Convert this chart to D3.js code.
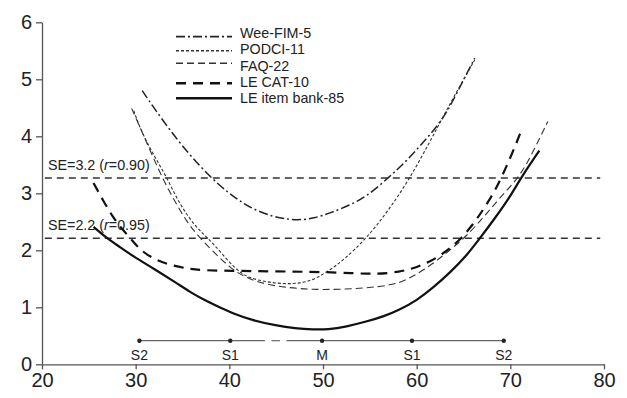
<!DOCTYPE html>
<html>
<head>
<meta charset="utf-8">
<script src="https://cdn.jsdelivr.net/npm/d3@7"></script>
<style>
  body { margin: 0; background: #fff; }
  text { font-family: "Liberation Sans", Arial, sans-serif; fill: #222; }
</style>
</head>
<body>
<script>
// x ticks / y ticks
var xTicks = [20, 30, 40, 50, 60, 70, 80];
var yTicks = [0, 1, 2, 3, 4, 5, 6];

// standard error curves, [score, SE]
var weeFim5 = [[30.7,4.80],[32.95,4.26],[35.5,3.72],[37.93,3.29],[39.8,3.02],[41.48,2.82],[43,2.69],[44.7,2.59],[46,2.55],[47.5,2.53],[49,2.56],[50.7,2.65],[52.7,2.78],[54.65,2.94],[57.1,3.29],[58.8,3.55],[60.3,3.82],[61.8,4.1],[63.2,4.40],[65.0,4.99],[66.2,5.37]];
var podci11 = [[29.8,4.45],[30.46,4.14],[31.8,3.7],[33.31,3.29],[34.73,2.79],[36.51,2.39],[37.75,2.21],[39.0,1.98],[40.78,1.65],[42,1.52],[44,1.44],[46,1.41],[47.5,1.42],[49,1.48],[50.7,1.65],[52.2,1.83],[54.65,2.21],[57,2.7],[59.3,3.27],[61.4,3.9],[63,4.4],[64.5,4.85],[66.2,5.34]];
var faq22 = [[29.57,4.49],[30.99,3.96],[32.77,3.29],[34.01,2.91],[35.44,2.50],[36.86,2.21],[39.0,1.86],[40.42,1.65],[42,1.5],[44,1.4],[46,1.35],[48,1.32],[50,1.31],[53,1.32],[56,1.36],[58.2,1.42],[60,1.58],[61.8,1.77],[63.5,2.0],[65.3,2.24],[67.5,2.65],[69.3,3.0],[71.0,3.29],[72.5,3.75],[74.0,4.26]];
var leCat10 = [[25.5,3.18],[26.5,2.88],[27.5,2.6],[28.5,2.38],[29.5,2.2],[30.5,2.0],[32,1.84],[33.7,1.74],[35.5,1.68],[37,1.65],[40,1.64],[45,1.63],[50,1.62],[53,1.6],[55.7,1.58],[58.2,1.62],[60,1.7],[61.8,1.83],[63.3,2.0],[64.6,2.18],[66,2.45],[67.1,2.71],[68.2,3.0],[69.1,3.29],[70.2,3.7],[71.2,4.11]];
var leBank85 = [[25.5,2.41],[27,2.2],[28.3,2.06],[29.7,1.9],[31.9,1.68],[34.5,1.41],[35.8,1.27],[37.2,1.14],[38.7,1.02],[40.4,0.89],[42.5,0.77],[45,0.68],[47,0.63],[49,0.61],[50.5,0.61],[52.5,0.66],[54.65,0.75],[56.5,0.84],[58.2,0.96],[60,1.12],[61.8,1.35],[63.5,1.6],[65.3,1.9],[66.7,2.2],[68.3,2.55],[69.9,2.92],[71.2,3.29],[73.1,3.75]];

// SE reference lines
var seLevels = [3.27, 2.21];
var seLabels = [["SE=3.2 (", "r", "=0.90)"], ["SE=2.2 (", "r", "=0.95)"]];

// mean / SD markers
var markerNames = ["S2", "S1", "M", "S1", "S2"];
var markerValues = [30.4, 40.1, 49.9, 59.5, 69.3];
var markerGap = [[30.4, 43.8], [44.5, 45.4], [46.1, 69.3]];

var seriesNames = ["Wee-FIM-5", "PODCI-11", "FAQ-22", "LE CAT-10", "LE item bank-85"];

var width = 627, height = 398;

var x = d3.scaleLinear().domain([20, 80]).range([42, 604]);
var y = d3.scaleLinear().domain([0, 6]).range([364.3, 22.3]);

var svg = d3.select("body").append("svg")
    .attr("width", width)
    .attr("height", height);

// line styles per series
var styles = [
  { width: 1.5, dash: "9,3,2,3", color: "#222" },
  { width: 1.1, dash: "3,2",     color: "#333" },
  { width: 1.1, dash: "7,4",     color: "#333" },
  { width: 2.2, dash: "10,7",    color: "#111" },
  { width: 2.2, dash: null,      color: "#111" }
];
var allSeries = [weeFim5, podci11, faq22, leCat10, leBank85];

var line = d3.line()
    .x(d => x(d[0]))
    .y(d => y(d[1]))
    .curve(d3.curveBasis);

// SE reference lines
svg.selectAll("line.se").data(seLevels).enter()
  .append("line")
    .attr("class", "se")
    .attr("x1", x(20.3)).attr("x2", x(79.6))
    .attr("y1", d => y(d)).attr("y2", d => y(d))
    .attr("stroke", "#333")
    .attr("stroke-width", 1.5)
    .attr("stroke-dasharray", "7,5");

seLabels.forEach(function(parts, i) {
  var t = svg.append("text")
    .attr("x", 48)
    .attr("y", y(seLevels[i]) - 8)
    .attr("font-size", 14.3);
  t.append("tspan").text(parts[0]);
  t.append("tspan").attr("font-style", "italic").text(parts[1]);
  t.append("tspan").text(parts[2]);
});

// curves
svg.selectAll("path.curve").data(allSeries).enter()
  .append("path")
    .attr("class", "curve")
    .attr("d", line)
    .attr("fill", "none")
    .attr("stroke", (d, i) => styles[i].color)
    .attr("stroke-width", (d, i) => styles[i].width)
    .attr("stroke-dasharray", (d, i) => styles[i].dash);

// mean / SD scale
var markY = 340.7;
svg.selectAll("line.mk").data(markerGap).enter()
  .append("line")
    .attr("x1", d => x(d[0])).attr("x2", d => x(d[1]))
    .attr("y1", markY).attr("y2", markY)
    .attr("stroke", "#666")
    .attr("stroke-width", 1.2);
svg.selectAll("circle.mk").data(markerValues).enter()
  .append("circle")
    .attr("cx", d => x(d)).attr("cy", markY)
    .attr("r", 2.2)
    .attr("fill", "#222");
svg.selectAll("text.mk").data(markerValues).enter()
  .append("text")
    .attr("x", d => x(d)).attr("y", 360)
    .attr("text-anchor", "middle")
    .attr("font-size", 14)
    .text((d, i) => markerNames[i]);

// axes
var xAxis = svg.append("g")
    .attr("transform", "translate(0," + y(0) + ")")
    .call(d3.axisBottom(x).tickValues(xTicks).tickFormat(d3.format("d"))
      .tickSize(5).tickSizeOuter(0).tickPadding(4));
var yAxis = svg.append("g")
    .attr("transform", "translate(" + x(20) + ",0)")
    .call(d3.axisLeft(y).tickValues(yTicks).tickFormat(d3.format("d"))
      .tickSize(6).tickSizeOuter(0).tickPadding(4));

[xAxis, yAxis].forEach(function(a) {
  a.select(".domain").attr("stroke", "#555").attr("stroke-width", 1.3);
  a.selectAll(".tick line").attr("stroke", "#555").attr("stroke-width", 1.3);
  a.selectAll("text")
    .attr("font-family", "Liberation Sans, Arial, sans-serif")
    .attr("font-size", 20)
    .attr("fill", "#222");
});

// legend
var legendLineY = [36.7, 50.7, 63.3, 83.3, 98.3];
var legend = svg.append("g");
seriesNames.forEach(function(name, i) {
  legend.append("line")
    .attr("x1", 176).attr("x2", 232)
    .attr("y1", legendLineY[i]).attr("y2", legendLineY[i])
    .attr("stroke", styles[i].color)
    .attr("stroke-width", i >= 3 ? 2.4 : styles[i].width + 0.3)
    .attr("stroke-dasharray", styles[i].dash);
  legend.append("text")
    .attr("x", 240)
    .attr("y", 33.3 + i * 16.1)
    .attr("dy", "0.35em")
    .attr("font-size", 14.3)
    .text(name);
});
</script>
</body>
</html>
